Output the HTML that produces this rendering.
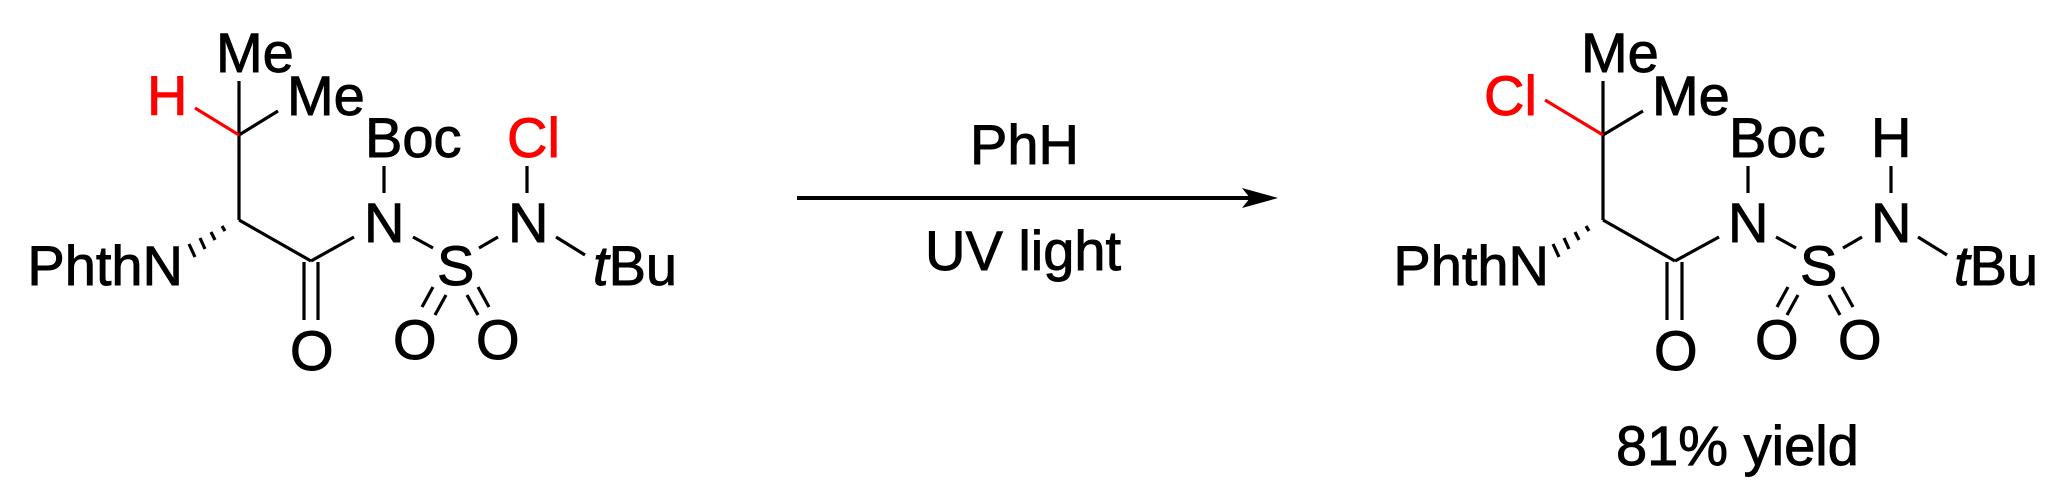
<!DOCTYPE html>
<html><head><style>body{margin:0;background:#fff}svg{display:block}text{font-family:"Liberation Sans",Arial,sans-serif;font-size:56px}</style></head>
<body>
<svg width="2061" height="498" viewBox="0 0 2061 498" xmlns="http://www.w3.org/2000/svg">
<g stroke="#000" stroke-width="3.2" fill="none">
<line x1="239" y1="81" x2="239" y2="220"/>
<line x1="239" y1="135" x2="278" y2="111"/>
<line x1="195" y1="108" x2="239" y2="135" stroke="#f00"/>
<line x1="239" y1="220" x2="311" y2="261"/>
<line x1="311" y1="261" x2="354" y2="237"/>
<line x1="304" y1="262" x2="304" y2="320"/>
<line x1="318" y1="262" x2="318" y2="320"/>
<line x1="384" y1="166" x2="384" y2="193"/>
<line x1="413" y1="237" x2="433" y2="248"/>
<line x1="479" y1="248" x2="498" y2="237"/>
<line x1="527" y1="166" x2="527" y2="193"/>
<line x1="556" y1="237" x2="585" y2="255"/>
<line x1="433" y1="287" x2="422" y2="307"/>
<line x1="446" y1="295" x2="435" y2="315"/>
<line x1="467" y1="295" x2="478" y2="315"/>
<line x1="478" y1="287" x2="489" y2="307"/>
<line x1="1603" y1="81" x2="1603" y2="220"/>
<line x1="1603" y1="135" x2="1643" y2="111"/>
<line x1="1545" y1="100" x2="1603" y2="135" stroke="#f00"/>
<line x1="1603" y1="220" x2="1675" y2="261"/>
<line x1="1675" y1="261" x2="1719" y2="237"/>
<line x1="1667" y1="262" x2="1667" y2="320"/>
<line x1="1682" y1="262" x2="1682" y2="320"/>
<line x1="1748" y1="166" x2="1748" y2="193"/>
<line x1="1776" y1="237" x2="1796" y2="248"/>
<line x1="1843" y1="248" x2="1862" y2="237"/>
<line x1="1891" y1="166" x2="1891" y2="193"/>
<line x1="1918" y1="237" x2="1947" y2="255"/>
<line x1="1788" y1="287" x2="1777" y2="307"/>
<line x1="1798" y1="295" x2="1787" y2="315"/>
<line x1="1829" y1="295" x2="1840" y2="315"/>
<line x1="1842" y1="287" x2="1853" y2="307"/>
<line x1="797" y1="198" x2="1250" y2="198" stroke-width="4"/>
</g>
<polygon points="1242,188 1278,198 1242,208 1250,198" fill="#000"/>
<g stroke="#000" stroke-width="3.2">
<line x1="222" y1="226" x2="225" y2="231"/>
<line x1="211" y1="232" x2="215" y2="240"/>
<line x1="200" y1="238" x2="205" y2="249"/>
<line x1="189" y1="244" x2="195" y2="257"/>
<line x1="1586" y1="226" x2="1589" y2="231"/>
<line x1="1575" y1="232" x2="1579" y2="240"/>
<line x1="1564" y1="238" x2="1569" y2="249"/>
<line x1="1553" y1="244" x2="1559" y2="257"/>
</g>
<g fill="#000" stroke="#000" stroke-width="0.9">
<text x="216" y="72">Me</text>
<text x="287" y="115">Me</text>
<text x="147" y="115" fill="#f00" stroke="#f00">H</text>
<text x="183" y="285" text-anchor="end">PhthN</text>
<text x="290" y="370">O</text>
<text x="364" y="242">N</text>
<text x="365" y="157">Boc</text>
<text x="437" y="285">S</text>
<text x="508" y="242">N</text>
<text x="507" y="157" fill="#f00" stroke="#f00">Cl</text>
<text x="593" y="285"><tspan font-style="italic">t</tspan>Bu</text>
<text x="393" y="359">O</text>
<text x="476" y="359">O</text>
<text x="970" y="164">PhH</text>
<text x="925" y="270">UV light</text>
<text x="1581" y="72">Me</text>
<text x="1652" y="115">Me</text>
<text x="1484" y="115" fill="#f00" stroke="#f00">Cl</text>
<text x="1549" y="285" text-anchor="end">PhthN</text>
<text x="1654" y="370">O</text>
<text x="1728" y="242">N</text>
<text x="1729" y="157">Boc</text>
<text x="1800" y="285">S</text>
<text x="1871" y="242">N</text>
<text x="1871" y="157">H</text>
<text x="1954" y="285"><tspan font-style="italic">t</tspan>Bu</text>
<text x="1755" y="359">O</text>
<text x="1838" y="359">O</text>
<text x="1616" y="465">81% yield</text>
</g>
</svg>
</body></html>
